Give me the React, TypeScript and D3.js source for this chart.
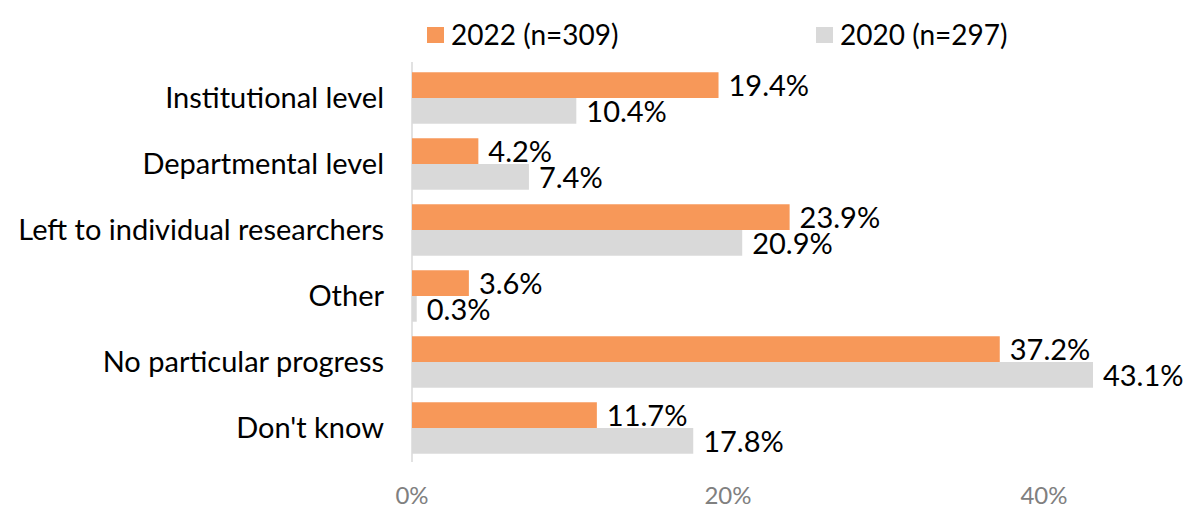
import * as React from 'react';
import * as d3 from 'd3';

const categories = [
  'Institutional level',
  'Departmental level',
  'Left to individual researchers',
  'Other',
  'No particular progress',
  "Don't know",
];
const series2022 = [19.4, 4.2, 23.9, 3.6, 37.2, 11.7];
const series2020 = [10.4, 7.4, 20.9, 0.3, 43.1, 17.8];
const seriesNames = ['2022 (n=309)', '2020 (n=297)'];
const xTicks = [0, 20, 40];

const W = 1200;
const H = 524;
const FONT = 'Lato, "Open Sans", sans-serif';
const ORANGE = '#F79859';
const GREY = '#D9D9D9';

export default function App() {
  const ref = React.useRef<SVGSVGElement>(null);

  React.useEffect(() => {
    const svg = d3.select(ref.current);
    svg.selectAll('*').remove();

    const x = d3.scaleLinear().domain([0, 40]).range([412, 1044]);
    const y = d3.scaleBand<string>()
      .domain(categories)
      .range([65, 461])
      .paddingInner(0.22)
      .paddingOuter(0.11);
    const half = y.bandwidth() / 2;

    // legend
    const legend = svg.append('g');
    const legendX = [427, 816];
    seriesNames.forEach((name, i) => {
      legend.append('rect')
        .attr('x', legendX[i])
        .attr('y', 27)
        .attr('width', 17)
        .attr('height', 16)
        .attr('fill', i === 0 ? ORANGE : GREY);
      legend.append('text')
        .attr('x', legendX[i] + 24)
        .attr('y', 35)
        .attr('dy', '0.35em')
        .attr('font-family', FONT)
        .attr('font-size', '28px')
        .attr('fill', '#000')
        .text(name);
    });

    // axis line
    svg.append('line')
      .attr('x1', x(0))
      .attr('x2', x(0))
      .attr('y1', 62)
      .attr('y2', 462)
      .attr('stroke', GREY)
      .attr('stroke-width', 1.5);

    const rows = categories.map((c, i) => ({ c, a: series2022[i], b: series2020[i] }));

    const g = svg.append('g');
    // 2022 bars
    g.selectAll('rect.s2022')
      .data(rows)
      .enter()
      .append('rect')
      .attr('class', 's2022')
      .attr('x', x(0))
      .attr('y', (d) => y(d.c)!)
      .attr('width', (d) => x(d.a) - x(0))
      .attr('height', half)
      .attr('fill', ORANGE);

    g.selectAll('rect.s2020')
      .data(rows)
      .enter()
      .append('rect')
      .attr('class', 's2020')
      .attr('x', x(0))
      .attr('y', (d) => y(d.c)! + half)
      .attr('width', (d) => x(d.b) - x(0))
      .attr('height', half)
      .attr('fill', GREY);

    // value labels
    g.selectAll('text.l2022')
      .data(rows)
      .enter()
      .append('text')
      .attr('class', 'l2022')
      .attr('x', (d) => x(d.a) + 10)
      .attr('y', (d) => y(d.c)! + half / 2 + 1)
      .attr('dy', '0.35em')
      .attr('font-family', FONT)
      .attr('font-size', '29px')
      .text((d) => `${d.a.toFixed(1)}%`);

    g.selectAll('text.l2020')
      .data(rows)
      .enter()
      .append('text')
      .attr('class', 'l2020')
      .attr('x', (d) => x(d.b) + 10)
      .attr('y', (d) => y(d.c)! + half * 1.5 + 1)
      .attr('dy', '0.35em')
      .attr('font-family', FONT)
      .attr('font-size', '29px')
      .text((d) => `${d.b.toFixed(1)}%`);

    // category labels
    g.selectAll('text.cat')
      .data(categories)
      .enter()
      .append('text')
      .attr('class', 'cat')
      .attr('x', 384)
      .attr('y', (d) => y(d)! + half)
      .attr('dy', '0.35em')
      .attr('text-anchor', 'end')
      .attr('font-family', FONT)
      .attr('font-size', '29px')
      .text((d) => d);

    // x tick labels
    g.selectAll('text.tick')
      .data(xTicks)
      .enter()
      .append('text')
      .attr('class', 'tick')
      .attr('x', (d) => x(d))
      .attr('y', 496)
      .attr('dy', '0.35em')
      .attr('text-anchor', 'middle')
      .attr('font-family', FONT)
      .attr('font-size', '24px')
      .attr('fill', '#808080')
      .text((d) => `${d}%`);
  }, []);

  return (
    <svg
      ref={ref}
      width={W}
      height={H}
      style={{ display: 'block', position: 'absolute', left: 0, top: 0, background: '#fff' }}
    />
  );
}
